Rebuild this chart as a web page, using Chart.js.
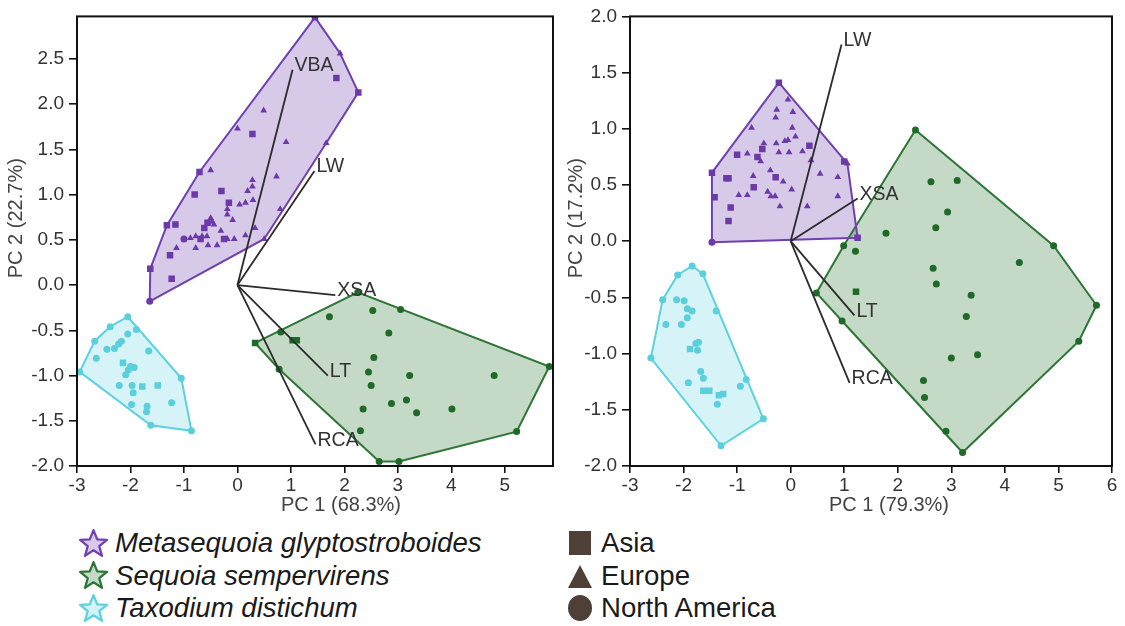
<!DOCTYPE html>
<html>
<head>
<meta charset="utf-8">
<title>PCA of cone traits</title>
<script src="https://cdn.jsdelivr.net/npm/chart.js@4.4.1/dist/chart.umd.min.js"></script>
<style>
  body { margin: 0; background: #fff; width: 1125px; height: 626px; position: relative; overflow: hidden;
         font-family: "Liberation Sans", Arial, sans-serif; }
  #boxA { position: absolute; left: 0; top: 0; width: 560px; height: 520px; }
  #boxB { position: absolute; left: 560px; top: 0; width: 565px; height: 520px; }
  .legend { position: absolute; color: #1a1a1a; font-size: 27.6px; }
  .legend .row { height: 32.5px; display: flex; align-items: center; white-space: nowrap; }
  .legend svg { margin-right: 6px; }
  .species i { font-style: italic; }
</style>
</head>
<body>
<div id="boxA"><canvas id="pcaA"></canvas></div>
<div id="boxB"><canvas id="pcaB"></canvas></div>

<div class="legend species" style="left:78px; top:527px;">
  <div class="row"><svg width="31" height="31" viewBox="0 0 30 30"><polygon points="15,2 18.6,11 28,11.5 20.6,17.6 23.2,27 15,21.6 6.8,27 9.4,17.6 2,11.5 11.4,11" fill="#d7c9e9" stroke="#7040b0" stroke-width="2.2" stroke-linejoin="round"/></svg><i>Metasequoia glyptostroboides</i></div>
  <div class="row"><svg width="31" height="31" viewBox="0 0 30 30"><polygon points="15,2 18.6,11 28,11.5 20.6,17.6 23.2,27 15,21.6 6.8,27 9.4,17.6 2,11.5 11.4,11" fill="#c4d9c7" stroke="#2d7636" stroke-width="2.2" stroke-linejoin="round"/></svg><i>Sequoia sempervirens</i></div>
  <div class="row"><svg width="31" height="31" viewBox="0 0 30 30"><polygon points="15,2 18.6,11 28,11.5 20.6,17.6 23.2,27 15,21.6 6.8,27 9.4,17.6 2,11.5 11.4,11" fill="#d4f3f7" stroke="#5cd2e0" stroke-width="2.2" stroke-linejoin="round"/></svg><i>Taxodium distichum</i></div>
</div>

<div class="legend" style="left:565px; top:527px;">
  <div class="row"><svg width="30" height="30" viewBox="0 0 30 30"><rect x="4" y="3" width="22" height="24" fill="#4f4037"/></svg>Asia</div>
  <div class="row"><svg width="30" height="30" viewBox="0 0 30 30"><polygon points="15,4 27,27 3,27" fill="#4f4037"/></svg>Europe</div>
  <div class="row"><svg width="30" height="30" viewBox="0 0 30 30"><ellipse cx="15" cy="15" rx="12" ry="13" fill="#4f4037"/></svg>North America</div>
</div>

<script>
// region codes: A = Asia, E = Europe, N = North America
// ---- PCA panel A (PC1 68.3%, PC2 22.7%) ----
const metaA_x = [1.45, 1.92, 2.26, 1.85, 1.66, 0.50, -1.64, -1.63, -1.32, -0.71, 0.00, 0.49, 0.28, 0.91, -0.50, 0.73, -0.80, -0.30,
  0.28, 0.28, 0.19, -0.16, 0.04, 0.15, 0.29, -0.19, -0.19, -0.09, 0.80, -1.16, -0.50, -0.47, -0.56, -0.62, -0.44, -0.31, 0.33,
  -1.00, -0.88, -0.78, -0.69, -0.66, -0.57, -0.78, -0.55, -0.38, -0.25, -0.19, -0.06, 0.15, -1.14, -1.26, -1.23];
const metaA_y = [2.96, 2.56, 2.13, 2.29, 1.57, 0.51, -0.18, 0.18, 0.66, 1.25, 1.73, 1.93, 1.67, 1.58, 1.27, 1.20, 1.00, 1.04,
  1.16, 1.09, 1.04, 0.91, 0.89, 0.91, 0.94, 0.84, 0.78, 0.72, 0.84, 0.67, 0.74, 0.70, 0.69, 0.63, 0.67, 0.60, 0.63,
  0.51, 0.52, 0.54, 0.51, 0.54, 0.54, 0.41, 0.44, 0.44, 0.51, 0.51, 0.51, 0.55, 0.41, 0.33, 0.07];
const metaA_reg = 'AEAAEENAAAEEAEEEAAEEEAEEEEEEEAEEAAEEENEEAEEEEEAEEEEAA';

const seqA_x = [0.33, 0.81, 2.25, 3.05, 5.83, 5.22, 3.02, 2.65, 0.78, 1.11, 1.03, 1.72, 2.53, 2.83, 2.55, 2.45, 3.22, 4.80,
  2.50, 2.35, 2.88, 3.16, 3.35, 4.01, 2.30];
const seqA_y = [-0.64, -0.52, -0.08, -0.27, -0.90, -1.62, -1.95, -1.95, -0.93, -0.61, -0.61, -0.35, -0.28, -0.53, -0.80, -0.96,
  -1.00, -1.00, -1.11, -1.37, -1.31, -1.27, -1.41, -1.37, -1.61];
const seqA_reg = 'ANNNNNNNNAANNNNNNNNNNNNNN';

const taxA_x = [-2.95, -2.67, -2.38, -2.05, -1.89, -1.05, -0.86, -1.62, -2.05, -2.17, -2.22, -2.30, -2.44, -2.64, -1.66, -2.14,
  -2.00, -1.93, -2.04, -2.09, -2.21, -1.97, -1.95, -1.78, -1.49, -1.98, -1.69, -1.70, -1.23];
const taxA_y = [-0.96, -0.62, -0.46, -0.35, -0.49, -1.03, -1.61, -1.55, -0.54, -0.62, -0.65, -0.70, -0.71, -0.81, -0.73, -0.86,
  -0.90, -0.91, -0.94, -0.99, -1.11, -1.11, -1.19, -1.12, -1.11, -1.32, -1.34, -1.40, -1.30];
const taxA_reg = 'NNNNNNNNNNNNNNNANNNNNNNAANNNN';

const loadA_names = ['VBA', 'LW', 'XSA', 'LT', 'RCA'];
const loadA_x = [1.03, 1.44, 1.83, 1.69, 1.46];
const loadA_y = [2.38, 1.26, -0.11, -1.00, -1.76];

const xTicksA = [-3, -2, -1, 0, 1, 2, 3, 4, 5];
const yTicksA = [-2.0, -1.5, -1.0, -0.5, 0.0, 0.5, 1.0, 1.5, 2.0, 2.5];

// ---- PCA panel B (PC1 79.3%, PC2 17.2%) ----
const metaB_x = [-0.22, 1.00, 1.06, 1.25, -1.47, -1.47, -1.42, -0.05, -0.26, -0.28, 0.04, -0.73, 0.03, 0.09, -0.05, -0.11,
  -0.27, -0.50, 0.35, -0.53, -1.00, -0.81, -0.62, -0.56, -0.22, -0.03, 0.22, 0.38, -0.38, -0.28, -0.14, -0.70, -1.20, -1.16,
  0.55, 0.88, -0.69, -0.97, -0.81, -0.43, -0.37, -0.29, 0.02, 0.88, -0.20, 0.31, -1.12, -1.16];
const metaB_y = [1.41, 0.71, 0.69, 0.03, -0.01, 0.61, 0.39, 1.26, 1.17, 1.10, 1.15, 1.01, 1.01, 0.93, 0.90, 0.89,
  0.87, 0.87, 0.85, 0.82, 0.77, 0.78, 0.75, 0.71, 0.79, 0.79, 0.80, 0.72, 0.63, 0.57, 0.53, 0.58, 0.56, 0.56,
  0.60, 0.57, 0.48, 0.41, 0.41, 0.44, 0.40, 0.40, 0.46, 0.40, 0.31, 0.31, 0.30, 0.18];
const metaB_reg = 'AAEANAAEEEEEEEEEEEAAAEAEEEEEEAEEAAEEAEEEEEEEEEAA';

const seqB_x = [2.33, 4.91, 5.71, 5.38, 3.21, 2.90, 0.48, 0.96, 0.99, 1.21, 1.78, 2.62, 3.11, 2.93, 2.71, 4.27, 2.66, 2.72,
  3.37, 3.28, 1.22, 3.00, 3.49, 2.48, 2.50];
const seqB_y = [0.99, -0.04, -0.57, -0.89, -1.88, -1.69, -0.46, -0.71, -0.04, -0.09, 0.07, 0.53, 0.54, 0.26, 0.12, -0.19,
  -0.24, -0.38, -0.48, -0.67, -0.45, -1.04, -1.01, -1.24, -1.39];
const seqB_reg = 'NNNNNNNNNNNNNNNNNNNNANNNN';

const taxB_x = [-1.84, -1.64, -2.11, -2.39, -2.61, -1.30, -0.51, -0.83, -1.39, -2.13, -1.99, -1.93, -1.84, -1.93, -2.33, -2.04,
  -1.72, -1.77, -1.88, -1.74, -1.68, -1.63, -1.91, -1.63, -1.52, -1.34, -1.26, -1.37, -0.94];
const taxB_y = [-0.22, -0.29, -0.30, -0.52, -1.04, -1.82, -1.58, -1.23, -0.62, -0.52, -0.53, -0.60, -0.62, -0.68, -0.74, -0.74,
  -0.90, -0.91, -0.96, -0.97, -1.16, -1.22, -1.26, -1.33, -1.33, -1.37, -1.36, -1.45, -1.29];
const taxB_reg = 'NNNNNNNNNNNNNNNNNNANNNNAAAANN';

const loadB_names = ['LW', 'XSA', 'LT', 'RCA'];
const loadB_x = [0.95, 1.25, 1.19, 1.10];
const loadB_y = [1.75, 0.38, -0.66, -1.26];

const xTicksB = [-3, -2, -1, 0, 1, 2, 3, 4, 5, 6];
const yTicksB = [-2.0, -1.5, -1.0, -0.5, 0.0, 0.5, 1.0, 1.5, 2.0];

// ---- styling ----
const SPECIES = {
  meta: { edge: '#7040b0', fill: 'rgba(112,64,176,0.28)', dot: '#6b3aa8' },
  seq:  { edge: '#2d7636', fill: 'rgba(45,118,54,0.28)',  dot: '#1f6a28' },
  tax:  { edge: '#5cd2e0', fill: 'rgba(92,210,224,0.25)', dot: '#5ccfdd' }
};
const SHAPE = { A: 'rect', E: 'triangle', N: 'circle' };
const RADIUS = { A: 4.6, E: 3.9, N: 3.5 };
const FONT = '"Liberation Sans", Arial, sans-serif';

// convex hull (monotone chain), returned closed for drawing
function convexHull(xs, ys) {
  const p = xs.map((x, i) => [x, ys[i]]).sort((a, b) => a[0] - b[0] || a[1] - b[1]);
  const cross = (o, a, b) => (a[0] - o[0]) * (b[1] - o[1]) - (a[1] - o[1]) * (b[0] - o[0]);
  const lower = [], upper = [];
  for (const q of p) {
    while (lower.length >= 2 && cross(lower[lower.length - 2], lower[lower.length - 1], q) <= 0) lower.pop();
    lower.push(q);
  }
  for (const q of p.slice().reverse()) {
    while (upper.length >= 2 && cross(upper[upper.length - 2], upper[upper.length - 1], q) <= 0) upper.pop();
    upper.push(q);
  }
  lower.pop(); upper.pop();
  const h = lower.concat(upper);
  h.push(h[0]);
  return h.map(([x, y]) => ({ x, y }));
}

function speciesSets(key, xs, ys, reg) {
  const s = SPECIES[key];
  const regs = reg.split('');
  return [
    {
      type: 'scatter', showLine: true, data: convexHull(xs, ys), order: 3,
      borderColor: s.edge, borderWidth: 2, pointRadius: 0, tension: 0, fill: false, hullColor: s.fill
    },
    {
      type: 'scatter', data: xs.map((x, i) => ({ x, y: ys[i] })), order: 2,
      pointStyle: regs.map(r => SHAPE[r]), pointRadius: regs.map(r => RADIUS[r]),
      backgroundColor: s.dot, borderColor: s.dot, borderWidth: 0
    }
  ];
}

function loadingSets(names, xs, ys) {
  return names.map((n, i) => ({
    type: 'scatter', showLine: true, data: [{ x: 0, y: 0 }, { x: xs[i], y: ys[i] }], order: 1,
    borderColor: '#2b2b2b', borderWidth: 1.8, pointRadius: 0, arrowLabel: n
  }));
}

// translucent hull areas under the outlines
const hullFill = {
  id: 'hullFill',
  beforeDatasetsDraw(chart) {
    const ctx = chart.ctx;
    chart.data.datasets.forEach((ds, i) => {
      if (!ds.hullColor) return;
      const pts = chart.getDatasetMeta(i).data;
      ctx.save();
      ctx.beginPath();
      pts.forEach((p, k) => k ? ctx.lineTo(p.x, p.y) : ctx.moveTo(p.x, p.y));
      ctx.closePath();
      ctx.fillStyle = ds.hullColor;
      ctx.fill();
      ctx.restore();
    });
  }
};

// variable names at the tips of the loading vectors, plot frame and axis titles
const tipsAndFrame = {
  id: 'tipsAndFrame',
  afterDatasetsDraw(chart, args, opts) {
    const ctx = chart.ctx;
    const a = chart.chartArea;
    ctx.save();
    ctx.font = '19.5px ' + FONT;
    ctx.fillStyle = '#333';
    ctx.textAlign = 'left';
    ctx.textBaseline = 'middle';
    chart.data.datasets.forEach((ds, i) => {
      if (!ds.arrowLabel) return;
      const tip = chart.getDatasetMeta(i).data[1];
      ctx.fillText(ds.arrowLabel, tip.x + 2, tip.y - 4);
    });
    ctx.strokeStyle = '#111';
    ctx.lineWidth = 2;
    ctx.strokeRect(a.left, a.top, a.right - a.left, a.bottom - a.top);

    ctx.font = '20px ' + FONT;
    ctx.fillStyle = '#444';
    ctx.textAlign = 'center';
    ctx.fillText(opts.xTitle, (a.left + a.right) / 2 + opts.xShift, a.bottom + 39);
    ctx.translate(16, (a.top + a.bottom) / 2 - 23);
    ctx.rotate(-Math.PI / 2);
    ctx.fillText(opts.yTitle, 0, 0);
    ctx.restore();
  }
};

function makePanel(id, datasets, xr, yr, xTicks, yTicks, titles, yWidth, padRight) {
  return new Chart(document.getElementById(id), {
    data: { datasets },
    plugins: [hullFill, tipsAndFrame],
    options: {
      responsive: true,
      maintainAspectRatio: false,
      animation: false,
      layout: { padding: { left: 0, top: 14, right: padRight, bottom: 0 } },
      plugins: { legend: { display: false }, tooltip: { enabled: false }, tipsAndFrame: titles },
      scales: {
        x: {
          type: 'linear', min: xr[0], max: xr[1],
          afterBuildTicks: s => { s.ticks = xTicks.map(v => ({ value: v })); },
          afterFit: s => { s.height = 54; },
          grid: { drawOnChartArea: false, drawTicks: true, tickLength: 7, color: '#111', lineWidth: 1.6 },
          border: { display: false },
          ticks: { color: '#333', padding: 1, font: { family: FONT, size: 19 }, callback: v => String(v) }
        },
        y: {
          type: 'linear', min: yr[0], max: yr[1],
          afterBuildTicks: s => { s.ticks = yTicks.map(v => ({ value: v })); },
          afterFit: s => { s.width = yWidth; },
          grid: { drawOnChartArea: false, drawTicks: true, tickLength: 8, color: '#111', lineWidth: 1.6 },
          border: { display: false },
          ticks: { color: '#333', padding: 5, font: { family: FONT, size: 19 }, callback: v => Number(v).toFixed(1) }
        }
      }
    }
  });
}

makePanel('pcaA',
  [].concat(
    speciesSets('meta', metaA_x, metaA_y, metaA_reg),
    speciesSets('seq', seqA_x, seqA_y, seqA_reg),
    speciesSets('tax', taxA_x, taxA_y, taxA_reg),
    loadingSets(loadA_names, loadA_x, loadA_y)
  ),
  [-3, 5.9], [-2, 2.97], xTicksA, yTicksA,
  { xTitle: 'PC 1 (68.3%)', yTitle: 'PC 2 (22.7%)', xShift: 26 }, 77, 7);

makePanel('pcaB',
  [].concat(
    speciesSets('meta', metaB_x, metaB_y, metaB_reg),
    speciesSets('seq', seqB_x, seqB_y, seqB_reg),
    speciesSets('tax', taxB_x, taxB_y, taxB_reg),
    loadingSets(loadB_names, loadB_x, loadB_y)
  ),
  [-3, 6], [-2, 2], xTicksB, yTicksB,
  { xTitle: 'PC 1 (79.3%)', yTitle: 'PC 2 (17.2%)', xShift: 18 }, 70, 13);
</script>
</body>
</html>
